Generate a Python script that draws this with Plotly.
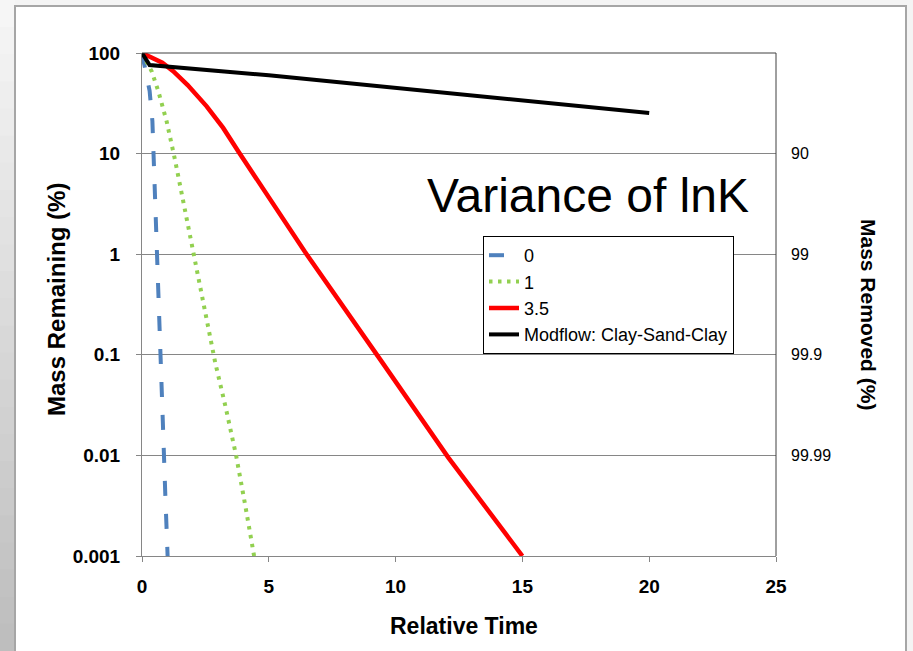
import plotly.graph_objects as go

# Mass remaining (%) versus relative time for three lnK variances plus a Modflow run
time_var0 = [0, 0.12, 0.30, 0.41, 0.47, 0.54, 0.60, 0.67, 0.74, 0.82, 0.92, 1.01]
mass_var0 = [100, 73, 42, 21, 7, 2.1, 0.8, 0.3, 0.09, 0.022, 0.004, 0.001]

time_var1 = [0, 0.2, 0.39, 0.64, 0.97, 1.3, 1.69, 2.09, 2.42, 2.89, 3.3, 3.71, 4.07, 4.42]
mass_var1 = [100, 82, 65, 42, 21, 8.7, 2.8, 0.87, 0.35, 0.083, 0.03, 0.01, 0.0032, 0.001]

time_var35 = [0, 0.45, 0.8, 1.23, 1.8, 2.55, 3.2, 3.8, 5.0, 6.43, 9.39, 12.08, 15.0]
mass_var35 = [100, 89, 80, 66, 48, 29.5, 18, 10.5, 3.7, 1.05, 0.09, 0.0095, 0.001]

time_modflow = [0, 0.3, 5, 10, 15, 20]
mass_modflow = [100, 76, 60, 45, 34, 25.3]

series_names = ["0", "1", "3.5", "Modflow: Clay-Sand-Clay"]
x_ticks = [0, 5, 10, 15, 20, 25]
left_ticks = [100, 10, 1, 0.1, 0.01, 0.001]
left_labels = ["100", "10", "1", "0.1", "0.01", "0.001"]
right_ticks = [10, 1, 0.1, 0.01]
right_labels = ["90", "99", "99.9", "99.99"]

W, H = 913, 651
L, R, T, B = 142, 776, 53, 556  # plot area edges in pixels


def px(xp):
    return (xp - L) / (R - L)


def py(yp):
    return (B - yp) / (B - T)


FONT = "Liberation Sans, Arial, sans-serif"

fig = go.Figure()
fig.add_trace(go.Scatter(x=time_var0, y=mass_var0, name=series_names[0], mode="lines",
                         line=dict(color="#4f81bd", width=4, dash="15px,18px"),
                         legendgroup="a"))
fig.add_trace(go.Scatter(x=time_var1, y=mass_var1, name=series_names[1], mode="lines",
                         line=dict(color="#92d050", width=4, dash="3.5px,5.5px"),
                         legendgroup="b"))
fig.add_trace(go.Scatter(x=time_var35, y=mass_var35, name=series_names[2], mode="lines",
                         line=dict(color="#ff0000", width=4.5),
                         legendgroup="c"))
fig.add_trace(go.Scatter(x=time_modflow, y=mass_modflow, name=series_names[3], mode="lines",
                         line=dict(color="#000000", width=4),
                         legendgroup="d"))
# carrier trace for the secondary (mass removed) axis
fig.add_trace(go.Scatter(x=[None], y=[None], yaxis="y2", showlegend=False,
                         hoverinfo="skip", mode="lines"))

shapes = []
# slide background: grey strip on the left that darkens downward
n = 24
for i in range(n):
    g = int(246 - (246 - 190) * i / (n - 1))
    col = f"rgb({g},{g},{g})"
    shapes.append(dict(type="rect", xref="paper", yref="paper",
                       x0=px(0), x1=px(15), y0=py(H * i / n), y1=py(H * (i + 1) / n + 1),
                       fillcolor=col, line=dict(width=0), layer="below"))
# white chart box
shapes.append(dict(type="rect", xref="paper", yref="paper",
                   x0=px(15), x1=px(906), y0=py(6), y1=py(H + 10),
                   fillcolor="white", line=dict(color="#a6a6a6", width=2), layer="below"))
# top and right edges of the plot area
shapes.append(dict(type="line", xref="paper", yref="paper", x0=0, x1=1, y0=1, y1=1,
                   line=dict(color="#404040", width=1)))
shapes.append(dict(type="line", xref="paper", yref="paper", x0=1, x1=1, y0=0, y1=1,
                   line=dict(color="#404040", width=1)))

annotations = [
    dict(text="Variance of lnK", x=px(588), y=py(195), xref="paper", yref="paper",
         showarrow=False, font=dict(family=FONT, size=48, color="black"),
         xanchor="center", yanchor="middle"),
    dict(text="Mass Remaining (%)", x=px(56), y=py(300), xref="paper", yref="paper",
         showarrow=False, textangle=-90,
         font=dict(family=FONT, size=24, color="black", weight="bold"),
         xanchor="center", yanchor="middle"),
    dict(text="Relative Time", x=px(464), y=py(626), xref="paper", yref="paper",
         showarrow=False, font=dict(family=FONT, size=23, color="black", weight="bold"),
         xanchor="center", yanchor="middle"),
    dict(text="Mass Removed (%)", x=px(869), y=py(314), xref="paper", yref="paper",
         showarrow=False, textangle=90,
         font=dict(family=FONT, size=21, color="black", weight="bold"),
         xanchor="center", yanchor="middle"),
]

fig.update_layout(
    width=W, height=H,
    margin=dict(l=L, r=W - R, t=T, b=H - B, pad=0),
    paper_bgcolor="#f4f4f4",
    plot_bgcolor="white",
    font=dict(family=FONT, color="black"),
    showlegend=True,
    legend=dict(x=px(483), y=py(236), xanchor="left", yanchor="top",
                bgcolor="white", bordercolor="black", borderwidth=1,
                font=dict(family=FONT, size=18, color="black"),
                tracegroupgap=4, itemwidth=30, traceorder="normal"),
    xaxis=dict(range=[0, 25], tickvals=x_ticks, ticktext=[str(v) for v in x_ticks],
               showgrid=False, zeroline=False, showline=True, linecolor="#868686",
               linewidth=1, ticks="outside", ticklen=5, tickcolor="#868686",
               ticklabelstandoff=8,
               tickfont=dict(family=FONT, size=19, color="black", weight="bold")),
    yaxis=dict(type="log", range=[-3, 2], tickvals=left_ticks, ticktext=left_labels,
               showgrid=True, gridcolor="#868686", gridwidth=1, zeroline=False,
               showline=True, linecolor="#868686", linewidth=1,
               ticks="outside", ticklen=5, tickcolor="#868686", ticklabelstandoff=12,
               tickfont=dict(family=FONT, size=19, color="black", weight="bold")),
    yaxis2=dict(type="log", range=[-3, 2], overlaying="y", side="right",
                tickvals=right_ticks, ticktext=right_labels, showgrid=False,
                zeroline=False, showline=False, ticks="", ticklabelstandoff=14,
                tickfont=dict(family=FONT, size=16, color="black")),
    shapes=shapes,
    annotations=annotations,
)

fig.write_html("out.html")
